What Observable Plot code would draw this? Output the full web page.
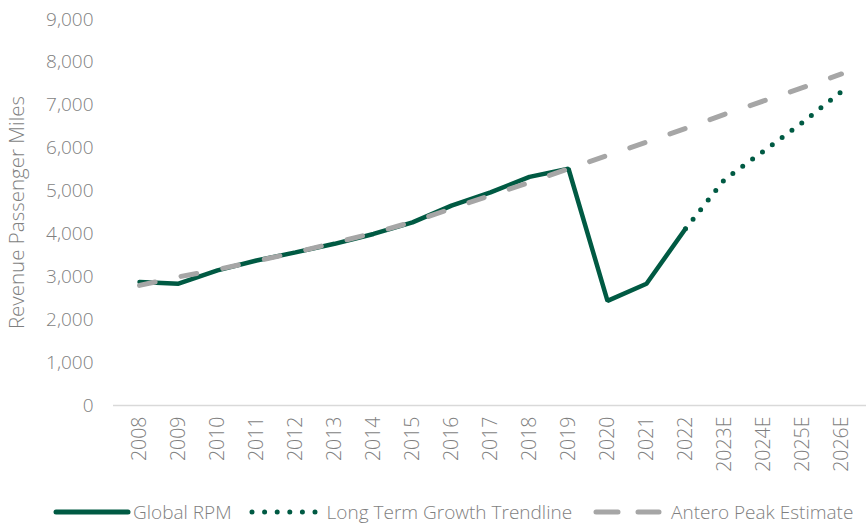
<!DOCTYPE html>
<html>
<head>
<meta charset="utf-8">
<script src="https://cdn.jsdelivr.net/npm/d3@7"></script>
<script src="https://cdn.jsdelivr.net/npm/@observablehq/plot@0.6"></script>
<style>
  html, body { margin: 0; padding: 0; background: #fff; overflow: hidden; }
  #chart { width: 866px; }
  .legend { display: flex; align-items: center; height: 27px; padding-top: 8px; font-family: "Open Sans", sans-serif; font-weight: 300; font-size: 19px; line-height: 24px; color: #7f7f7f; }
  .legend svg { display: block; }
  .legend span { white-space: nowrap; }
</style>
</head>
<body>
<div id="chart"></div>
<script>
const years = ["2008","2009","2010","2011","2012","2013","2014","2015","2016","2017","2018","2019","2020","2021","2022","2023E","2024E","2025E","2026E"];
const globalRPM = [2880, 2840, 3150, 3380, 3570, 3770, 4000, 4270, 4660, 4970, 5330, 5520, 2440, 2840, 4120];
const trendYears = ["2022","2023E","2024E","2025E","2026E"];
const trendValues = [4120, 5270, 5930, 6600, 7320];
const anteroValues = [2800, 3000, 3170, 3370, 3570, 3790, 4020, 4280, 4590, 4900, 5200, 5520, 5830, 6140, 6460, 6790, 7100, 7410, 7730];
const yTicks = [0,1000,2000,3000,4000,5000,6000,7000,8000,9000];
const seriesNames = ["Global RPM", "Long Term Growth Trendline", "Antero Peak Estimate"];

const green = "#005a43";
const grey = "#a6a6a6";
const textColor = "#7f7f7f";

const globalData = globalRPM.map((v, i) => ({year: years[i], value: v}));
const trendData = trendValues.map((v, i) => ({year: trendYears[i], value: v}));
const anteroData = anteroValues.map((v, i) => ({year: years[i], value: v}));

const chart = Plot.plot({
  width: 866,
  height: 490,
  marginLeft: 113,
  marginRight: 0,
  marginTop: 19,
  marginBottom: 85,
  style: {fontFamily: "'Open Sans', sans-serif", fontSize: "19px", fontWeight: 300, color: textColor, background: "#fff"},
  x: {type: "point", domain: years, padding: 0.5},
  y: {domain: [0, 9000]},
  marks: [
    Plot.ruleY([0], {stroke: "#d9d9d9", strokeWidth: 1.5}),
    Plot.axisY({ticks: yTicks, tickSize: 0, tickPadding: 20, tickFormat: d3.format(","), fill: textColor, label: null}),
    Plot.axisY({ticks: [], tickSize: 0, label: "Revenue Passenger Miles", labelAnchor: "center", labelArrow: "none", labelOffset: 104, fill: textColor, fontSize: 20.5}),
    Plot.axisX({tickSize: 0, tickPadding: 11, tickRotate: -90, label: null, fill: textColor, fontSize: 19.5}),
    Plot.line(globalData, {x: "year", y: "value", stroke: green, strokeWidth: 4.5, strokeLinejoin: "miter"}),
    Plot.line(trendData, {x: "year", y: "value", stroke: green, strokeWidth: 5, strokeLinecap: "round", strokeDasharray: "0,12.2"}),
    Plot.line(anteroData, {x: "year", y: "value", stroke: grey, strokeWidth: 5, strokeLinecap: "round", strokeDasharray: "16,26.5"})
  ]
});
document.getElementById("chart").appendChild(chart);

// Legend
const legend = document.createElement("div");
legend.className = "legend";
const samples = [
  {w: 80, attrs: `stroke="${green}" stroke-width="5" stroke-linecap="round"`, x1: 3, x2: 75},
  {w: 78, attrs: `stroke="${green}" stroke-width="5" stroke-linecap="round" stroke-dasharray="0,12.6"`, x1: 3, x2: 67},
  {w: 80, attrs: `stroke="${grey}" stroke-width="5" stroke-linecap="round" stroke-dasharray="22,20"`, x1: 5, x2: 68}
];
const gaps = [53, 17, 19];
seriesNames.forEach((name, i) => {
  const s = samples[i];
  const wrap = document.createElement("div");
  wrap.style.display = "flex";
  wrap.style.alignItems = "center";
  wrap.style.marginLeft = gaps[i] + "px";
  wrap.innerHTML = `<svg width="${s.w}" height="12"><line x1="${s.x1}" x2="${s.x2}" y1="6" y2="6" ${s.attrs}/></svg><span>${name}</span>`;
  legend.appendChild(wrap);
});
document.body.appendChild(legend);
</script>
</body>
</html>
